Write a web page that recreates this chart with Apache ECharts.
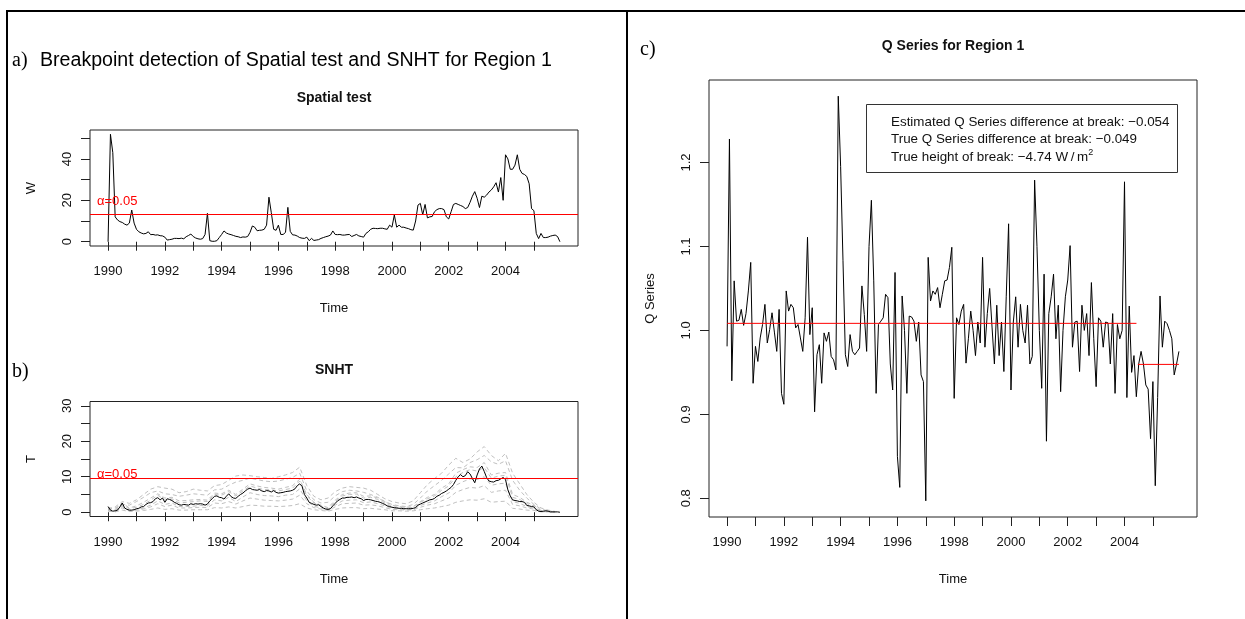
<!DOCTYPE html>
<html><head><meta charset="utf-8">
<script src="https://cdn.jsdelivr.net/npm/echarts@6/dist/echarts.min.js"></script>
<style>html,body{margin:0;padding:0;background:#fff}#c{width:1245px;height:619px}</style>
</head><body><div id="c"></div>
<script>
// ---------- data ----------
const startYear = 1990;
const monthly = 12;
const quarterly = 4;

// a) Spatial test statistic W (monthly, 1990-01 .. 2005-12)
const spatialW = [
  0, 51.9, 43, 12, 10.5, 9.7, 9.3, 8.5, 8, 9, 15.3, 9,
  6, 4.8, 4.2, 3.8, 4, 4.8, 3.4, 3.5, 3.2, 3.3, 2.9, 2.8,
  2.2, 0.8, 1, 1.2, 1.6, 1.6, 1.5, 1.7, 1.4, 2.4, 3, 3.7,
  2.5, 1.8, 1.4, 1.2, 1.5, 3.5, 13.7, 0.5, 0.2, 0.2, 0.5, 2,
  3.5, 5.2, 4.2, 3.7, 3.4, 3, 2.6, 2.4, 2, 2.3, 2.2, 2.5,
  4.5, 7.6, 7, 5.3, 5.5, 5.6, 6, 8, 21.5, 14, 6, 5.5,
  8, 3.5, 3.5, 4.5, 16.6, 5, 3.3, 3.2, 2.7, 2, 1.7, 1.6,
  2.2, 0.5, 1.6, 0.6, 0.8, 1, 1.6, 2, 2.4, 2.7, 3.2, 5.2,
  3.5, 3.4, 3.5, 3.2, 3.2, 3.4, 3.5, 2.5, 3, 3.5, 2.8, 2.5,
  2.2, 4, 4.8, 6, 6.5, 6.4, 6.3, 6.5, 6.5, 6.2, 6, 8,
  7, 12.9, 7, 8, 7, 7, 6.6, 6.3, 5.8, 5.6, 10, 17.7,
  18.5, 13, 18, 11.5, 12, 12.2, 14.5, 15.5, 16, 16, 15.5, 12,
  11, 14.5, 18, 18.5, 18, 17.5, 17, 16, 16.5, 19, 22, 24.2,
  21, 16.5, 22, 21.5, 22.5, 24, 25, 26.5, 28.5, 24, 31, 20,
  42, 40, 35, 35, 37, 42, 35, 33, 32.5, 31.5, 28, 16,
  15, 4, 1.5, 4, 2, 2, 2.2, 2.7, 3, 3.2, 2.5, 0
];
const spatialCritical = 13.2;

// b) SNHT statistic T (monthly) and reference-series SNHT curves (quarterly)
const snhtT = [
  1.6, 0.6, 0.3, 0.4, 0.6, 1.5, 2.6, 1.2, 0.8, 0.6, 0.6, 0.7,
  1.0, 1.1, 1.5, 1.6, 2.2, 2.6, 2.7, 3.0, 3.8, 4.1, 3.5, 4.0,
  2.8, 3.8, 3.6, 3.3, 2.8, 2.5, 2.1, 2.0, 2.2, 2.1, 2.0, 2.4,
  2.2, 2.4, 2.3, 2.4, 2.3, 2.0, 2.3, 3.2, 3.8, 4.5, 4.6, 4.2,
  4.1, 3.7, 4.5, 5.2, 4.4, 4.0, 3.9, 4.5, 5.0, 5.4, 6.0, 6.5,
  6.8, 6.4, 6.3, 6.2, 6.4, 6.0, 5.8, 6.1, 6.0, 5.7, 6.1, 5.6,
  5.4, 5.5, 5.6, 5.8, 5.9, 6.0, 6.2, 6.6, 7.5, 8.0, 7.3, 5.0,
  4.0, 2.8, 2.5, 2.2, 2.0, 2.1, 1.6, 1.2, 0.9, 0.8, 1.0, 1.8,
  2.5, 3.2, 3.6, 4.0, 4.0, 4.2, 4.2, 4.3, 4.1, 4.3, 4.0, 3.8,
  3.3, 3.6, 3.6, 3.5, 3.3, 3.1, 3.0, 2.8, 2.5, 2.2, 1.8, 1.6,
  1.4, 1.3, 1.2, 1.1, 1.1, 1.0, 1.0, 1.0, 1.0, 1.1, 1.3, 2.0,
  2.3, 2.6, 2.9, 3.2, 3.5, 3.6, 3.9, 4.5, 4.8, 5.3, 5.6, 6.0,
  6.5, 7.0, 7.8, 9.0, 10.0, 10.6, 10.0, 10.3, 11.4, 10.8, 9.5, 8.3,
  10.5, 12.2, 13.0, 11.5, 9.8, 8.8, 8.6, 8.5, 8.9, 9.0, 9.4, 9.8,
  9.2, 6.3, 4.6, 3.5, 3.3, 3.2, 3.0, 3.0, 2.8, 1.9, 1.8, 1.6,
  1.5, 0.7, 0.3, 0.2, 0.3, 0.4, 0.3, 0.1, 0.1, 0.1, 0.1, 0.0
];
const snhtRef1 = [
  1.0, 1.5, 3.0, 2.5, 3.5, 5.0, 6.5, 7.2,  6.8, 6.5, 5.5, 5.8, 6.5, 6.2, 6.0, 7.5,
  7.8, 9.0, 10.2, 10.5, 10.3, 10.0, 9.8, 9.5,  10.0, 10.5, 11.2, 12.7, 7.5, 4.5, 3.5, 4.0,
  5.8, 6.8, 7.2, 7.0, 6.8, 6.2, 5.0, 3.8,  3.0, 2.6, 2.4, 3.2, 5.5, 7.8, 9.5, 11.0,
  13.3, 15.2, 14.0, 15.0, 17.0, 18.5, 16.0, 14.5,  16.6, 11.0, 8.0, 5.0, 2.8, 1.2, 0.6, 0.2
];
const snhtRef2 = [
  0.8, 1.2, 2.2, 2.0, 3.0, 4.2, 5.5, 6.0,  5.2, 5.0, 4.5, 4.8, 5.2, 5.0, 4.8, 6.3,
  6.5, 7.6, 8.5, 9.0, 9.6, 9.2, 8.8, 8.6,  8.8, 9.3, 9.8, 11.0, 6.0, 3.5, 2.6, 2.8,
  4.6, 5.8, 6.2, 6.0, 5.6, 5.0, 4.2, 3.0,  2.2, 1.8, 1.6, 2.2, 4.0, 6.0, 7.5, 9.0,
  10.8, 12.6, 12.5, 14.0, 14.8, 16.0, 14.2, 13.5,  14.5, 9.0, 6.2, 4.0, 2.2, 0.9, 0.4, 0.1
];
const snhtRef3 = [
  1.2, 0.8, 2.6, 1.2, 1.8, 2.8, 4.0, 5.2,  4.0, 4.2, 3.2, 3.3, 3.5, 3.6, 3.4, 5.4,
  5.2, 6.2, 5.0, 6.5, 8.0, 7.4, 7.0, 6.8,  6.5, 7.0, 7.5, 9.3, 5.0, 2.8, 2.0, 1.3,
  3.4, 5.0, 5.4, 5.5, 4.5, 4.6, 4.0, 3.0,  2.0, 1.6, 1.4, 1.6, 3.0, 4.2, 5.0, 6.8,
  8.0, 11.0, 12.0, 12.8, 12.6, 14.0, 10.5, 11.0,  11.2, 5.0, 4.2, 2.8, 2.0, 0.5, 0.4, 0.1
];
const snhtRef4 = [
  0.8, 0.3, 1.6, 0.5, 0.8, 1.2, 2.0, 3.2,  2.2, 2.6, 1.6, 1.6, 1.7, 1.9, 1.8, 3.5,
  3.2, 4.2, 3.0, 4.3, 5.5, 5.0, 4.7, 4.6,  4.4, 4.8, 5.0, 6.6, 3.2, 1.7, 1.2, 0.6,
  2.0, 3.2, 3.4, 3.5, 2.7, 2.9, 2.4, 1.8,  1.1, 0.9, 0.8, 0.9, 1.9, 2.6, 3.2, 4.4,
  5.4, 7.6, 8.6, 9.4, 9.2, 10.0, 7.6, 8.0,  8.2, 3.0, 2.5, 1.6, 1.2, 0.2, 0.2, 0.1
];
const snhtRef5 = [
  0.5, 0.2, 1.2, 0.4, 0.6, 0.9, 1.5, 2.4,  1.6, 2.0, 1.2, 1.2, 1.3, 1.4, 1.3, 2.6,
  2.4, 3.0, 2.3, 3.2, 4.0, 3.7, 3.4, 3.3,  3.2, 3.4, 3.7, 4.8, 2.4, 1.3, 0.9, 0.5,
  1.5, 2.4, 2.5, 2.6, 2.0, 2.1, 1.8, 1.3,  0.8, 0.7, 0.6, 0.7, 1.4, 2.0, 2.4, 3.2,
  4.0, 5.6, 6.4, 7.0, 6.8, 7.5, 5.6, 6.0,  6.2, 2.2, 1.8, 1.2, 0.9, 0.2, 0.1, 0.0
];
const snhtRef6 = [
  0.3, 0.1, 0.6, 0.2, 0.3, 0.5, 0.8, 1.2,  0.8, 1.0, 0.6, 0.6, 0.7, 0.7, 0.7, 1.3,
  1.2, 1.5, 1.2, 1.6, 2.0, 1.9, 1.7, 1.7,  1.6, 1.7, 1.9, 2.4, 1.2, 0.7, 0.5, 0.3,
  0.8, 1.2, 1.3, 1.3, 1.0, 1.1, 0.9, 0.7,  0.4, 0.4, 0.3, 0.4, 0.7, 1.0, 1.2, 1.6,
  2.0, 2.8, 3.2, 3.5, 3.4, 3.8, 2.8, 3.0,  3.1, 1.1, 0.9, 0.6, 0.5, 0.1, 0.1, 0.0
];
const snhtRef7 = [
  1.4, 0.6, 2.0, 1.0, 1.4, 2.2, 3.4, 4.8,  3.4, 3.8, 2.6, 2.8, 3.0, 3.2, 3.0, 5.0,
  4.8, 5.8, 4.6, 6.0, 7.4, 6.8, 6.4, 6.3,  6.0, 6.4, 6.8, 8.8, 4.6, 2.6, 1.8, 1.0,
  3.0, 4.6, 5.0, 5.1, 4.0, 4.2, 3.6, 2.6,  1.6, 1.3, 1.2, 1.3, 2.8, 3.8, 4.6, 6.2,
  7.4, 10.0, 11.2, 12.0, 11.6, 12.6, 9.6, 10.2,  10.4, 4.2, 3.6, 2.4, 1.8, 0.3, 0.3, 0.1
];
const snhtCritical = 9.6;
const snhtLimits = [0, 30];

// c) Q series (monthly)
const qSeries = [
  0.981, 1.228, 0.940, 1.059, 1.011, 1.012, 1.025, 1.006, 1.020, 1.047, 1.081, 0.937,
  0.981, 0.963, 0.991, 1.007, 1.031, 0.985, 1.001, 1.021, 0.998, 0.975, 1.025, 0.925,
  0.912, 1.047, 1.023, 1.031, 1.027, 1.003, 1.007, 0.991, 0.975, 1.015, 1.111, 0.995,
  1.027, 0.903, 0.971, 0.983, 0.937, 0.997, 0.987, 0.998, 0.969, 0.965, 0.953, 1.279,
  1.195, 1.083, 0.971, 0.957, 0.995, 0.975, 0.971, 0.975, 0.979, 1.053, 1.019, 0.975,
  1.100, 1.155, 1.059, 0.925, 1.007, 1.011, 1.015, 1.043, 1.039, 0.960, 0.929, 1.069,
  0.850, 0.813, 1.041, 1.000, 0.925, 1.017, 1.016, 1.011, 0.987, 1.010, 0.947, 0.939,
  0.797, 1.087, 1.035, 1.047, 1.043, 1.051, 1.027, 1.043, 1.059, 1.060, 1.075, 1.099,
  0.919, 1.015, 1.007, 1.023, 1.031, 0.961, 0.990, 1.023, 1.000, 0.970, 1.010, 0.985,
  1.087, 0.980, 1.020, 1.050, 1.004, 0.960, 1.030, 0.970, 1.010, 0.951, 1.040, 1.127,
  0.929, 1.010, 1.040, 0.980, 1.031, 1.000, 0.985, 1.030, 0.960, 0.969, 1.179, 1.100,
  1.000, 0.931, 1.067, 0.868, 1.020, 1.040, 1.067, 0.990, 1.030, 0.927, 1.000, 1.040,
  1.060, 1.101, 0.980, 1.010, 1.011, 0.951, 1.030, 1.000, 1.020, 0.970, 1.057, 0.990,
  0.933, 1.015, 1.011, 0.980, 1.010, 1.009, 0.960, 1.020, 0.925, 1.007, 0.990, 1.000,
  1.177, 0.920, 1.029, 0.950, 0.970, 0.921, 0.960, 0.975, 0.960, 0.935, 0.930, 0.871,
  0.939, 0.815, 0.920, 1.041, 0.980, 1.011, 1.008, 1.000, 0.990, 0.947, 0.960, 0.975
];
const qLevelBefore = 1.0084;
const qLevelAfter = 0.9595;
const qSegmentBeforeEnd = 2004.42;
const qSegmentAfterStart = 2004.47;

// ticks / labels
const yearTicks = [1990,1991,1992,1993,1994,1995,1996,1997,1998,1999,2000,2001,2002,2003,2004,2005];
const yearLabels = [1990,1992,1994,1996,1998,2000,2002,2004];
const wTicks = [0,10,20,30,40,50];
const wLabels = [0,20,40];
const tTicks = [0,5,10,15,20,25,30];
const tLabels = [0,10,20,30];
const qTicks = [0.8,0.9,1.0,1.1,1.2];
const alphaText = '\u03b1=0.05';
const legendLines = [
  'Estimated Q Series difference at break: \u22120.054',
  'True Q Series difference at break: \u22120.049',
  'True height of break: \u22124.74 W\u2009/\u2009m{sup|2}'
];

// ---------- helpers ----------
const asTime = (vals, freq) => vals.map((v, i) => [startYear + i / freq, v]);
const rRange = (lo, hi) => { const d = (hi - lo) * 0.04; return [lo - d, hi + d]; };
const lastTime = startYear + (qSeries.length - 1) / monthly;
const xLim = rRange(startYear, lastTime);
const wLim = rRange(Math.min(...spatialW), Math.max(...spatialW));
const tLim = rRange(snhtLimits[0], snhtLimits[1]);
const qLim = rRange(Math.min(...qSeries), Math.max(...qSeries));

const FONT = '"Liberation Sans", Arial, Helvetica, sans-serif';
const SERIF = '"Liberation Serif", "Times New Roman", serif';
const INK = '#111';
const RED = '#ff0000';

function xAxis(gi) {
  return {
    type: 'value', gridIndex: gi, min: xLim[0], max: xLim[1],
    axisLine: { show: false }, splitLine: { show: false },
    axisTick: { show: true, length: 9, lineStyle: { color: '#222', width: 1 }, customValues: yearTicks },
    axisLabel: { customValues: yearLabels, margin: 19, fontFamily: FONT, fontSize: 13, color: INK, formatter: v => String(v) },
    name: 'Time', nameLocation: 'middle', nameGap: 56,
    nameTextStyle: { fontFamily: FONT, fontSize: 13, color: INK }
  };
}
function yAxis(gi, lim, ticks, labels, name, fmt) {
  return {
    type: 'value', gridIndex: gi, min: lim[0], max: lim[1],
    axisLine: { show: false }, splitLine: { show: false },
    axisTick: { show: true, length: 9, lineStyle: { color: '#222', width: 1 }, customValues: ticks },
    axisLabel: { customValues: labels, rotate: 90, margin: 16, fontFamily: FONT, fontSize: 13, color: INK, formatter: fmt || (v => String(v)) },
    name: name, nameLocation: 'middle', nameRotate: 90, nameGap: 52,
    nameTextStyle: { fontFamily: FONT, fontSize: 13, color: INK }
  };
}
const gridStyle = { show: true, borderColor: '#222', borderWidth: 1, backgroundColor: 'transparent', containLabel: false };

const grayRefs = [snhtRef1, snhtRef2, snhtRef3, snhtRef4, snhtRef5, snhtRef6, snhtRef7];
const graySeries = grayRefs.map(r => ({
  type: 'line', xAxisIndex: 1, yAxisIndex: 1, data: asTime(r, quarterly),
  showSymbol: false, silent: true, lineStyle: { color: '#c0c0c0', width: 1, type: [4, 3] }
}));

// red critical-value line across the plot with the alpha label at its left end
function criticalMark(value, dist) {
  return {
    silent: true, symbol: 'none', animation: false,
    lineStyle: { color: RED, width: 1, type: 'solid', opacity: 1 },
    emphasis: { disabled: true },
    label: { show: true, position: 'insideStartTop', formatter: alphaText, color: RED, fontFamily: FONT, fontSize: 13, distance: dist },
    data: [{ yAxis: value, lineStyle: { color: RED } }]
  };
}

const txt = (x, y, text, font, align, color) => ({
  type: 'text', x, y, silent: true,
  style: { text, font, fill: color || INK, textAlign: align || 'left', textVerticalAlign: 'middle' }
});

const option = {
  animation: false,
  backgroundColor: '#fff',
  grid: [
    Object.assign({ left: 90, top: 130, width: 488, height: 116 }, gridStyle),
    Object.assign({ left: 90, top: 401.5, width: 488, height: 115 }, gridStyle),
    Object.assign({ left: 709, top: 80, width: 488, height: 437 }, gridStyle)
  ],
  xAxis: [xAxis(0), xAxis(1), xAxis(2)],
  yAxis: [
    yAxis(0, wLim, wTicks, wLabels, 'W'),
    yAxis(1, tLim, tTicks, tLabels, 'T'),
    yAxis(2, qLim, qTicks, qTicks, 'Q Series', v => v.toFixed(1))
  ],
  series: [
    {
      type: 'line', xAxisIndex: 0, yAxisIndex: 0, data: asTime(spatialW, monthly),
      showSymbol: false, silent: true, lineStyle: { color: '#000', width: 1 }, itemStyle: { color: '#000' },
      markLine: criticalMark(spatialCritical, [7, 6])
    },
    ...graySeries,
    {
      type: 'line', xAxisIndex: 1, yAxisIndex: 1, data: asTime(snhtT, monthly),
      showSymbol: false, silent: true, lineStyle: { color: '#000', width: 1 }, itemStyle: { color: '#000' },
      markLine: criticalMark(snhtCritical, [7, -3])
    },
    {
      type: 'line', xAxisIndex: 2, yAxisIndex: 2, data: asTime(qSeries, monthly),
      showSymbol: false, silent: true, lineStyle: { color: '#000', width: 1 }
    },
    {
      type: 'line', xAxisIndex: 2, yAxisIndex: 2,
      data: [[startYear, qLevelBefore], [qSegmentBeforeEnd, qLevelBefore]],
      showSymbol: false, silent: true, lineStyle: { color: RED, width: 1 }
    },
    {
      type: 'line', xAxisIndex: 2, yAxisIndex: 2,
      data: [[qSegmentAfterStart, qLevelAfter], [lastTime, qLevelAfter]],
      showSymbol: false, silent: true, lineStyle: { color: RED, width: 1 }
    }
  ],
  graphic: [
    { type: 'line', silent: true, shape: { x1: 6, y1: 11, x2: 1245, y2: 11 }, style: { stroke: '#000', lineWidth: 2 } },
    { type: 'line', silent: true, shape: { x1: 7, y1: 10, x2: 7, y2: 619 }, style: { stroke: '#000', lineWidth: 2 } },
    { type: 'line', silent: true, shape: { x1: 627, y1: 10, x2: 627, y2: 619 }, style: { stroke: '#000', lineWidth: 2 } },
    txt(12, 61, 'a)', '20px ' + SERIF, 'left', '#000'),
    txt(40, 61, 'Breakpoint detection of Spatial test and SNHT for Region 1', '19.6px ' + FONT, 'left', '#000'),
    txt(334, 98, 'Spatial test', 'bold 14px ' + FONT, 'center'),
    txt(12, 372, 'b)', '20px ' + SERIF, 'left', '#000'),
    txt(334, 370, 'SNHT', 'bold 14px ' + FONT, 'center'),
    txt(640, 50, 'c)', '20px ' + SERIF, 'left', '#000'),
    txt(953, 46, 'Q Series for Region 1', 'bold 14px ' + FONT, 'center'),
    { type: 'rect', silent: true, shape: { x: 866.5, y: 104.5, width: 311, height: 68 }, style: { fill: '#fff', stroke: '#333', lineWidth: 1 } },
    txt(891, 122, legendLines[0], '13.4px ' + FONT),
    txt(891, 139.5, legendLines[1], '13.4px ' + FONT),
    {
      type: 'text', x: 891, y: 157, silent: true,
      style: {
        text: legendLines[2], font: '13.4px ' + FONT, fill: INK, textAlign: 'left', textVerticalAlign: 'middle',
        lineHeight: 17,
        rich: { sup: { fontSize: 9, fontFamily: FONT, fill: INK, verticalAlign: 'top', lineHeight: 17 } }
      }
    }
  ]
};

const chart = echarts.init(document.getElementById('c'), null, { renderer: 'canvas' });
chart.setOption(option);
</script>
</body></html>
